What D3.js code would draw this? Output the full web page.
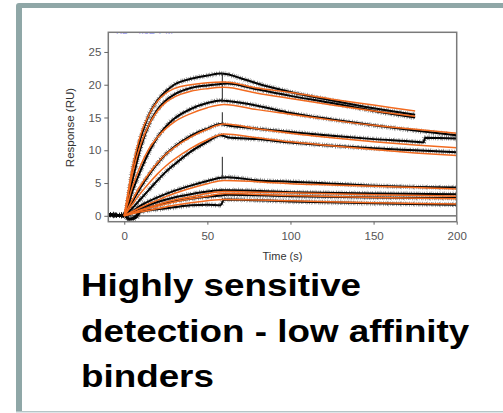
<!DOCTYPE html>
<html><head><meta charset="utf-8">
<script src="https://cdn.jsdelivr.net/npm/d3@7"></script>
<style>
html,body{margin:0;padding:0;background:#fff;}
svg{display:block;font-family:"Liberation Sans",Arial,sans-serif;}
</style></head>
<body>
<svg id="c" width="503" height="413"></svg>
<script>
// ---- Data ----
const xTicks = [0, 50, 100, 150, 200];
const yTicks = [0, 5, 10, 15, 20, 25];
const xLabel = "Time (s)";
const yLabel = "Response (RU)";
const titleLines = ["Highly sensitive", "detection - low affinity", "binders"];

// measured sensorgrams (black): [time, response]
const measA = [[-9.6,0.2],[0,0.1],[5,7.0],[10,12.0],[15,15.5],[20,17.6],[25,19.0],[30,20.0],[40,20.9],[50,21.4],[58,21.7],[62,21.6],[70,21.0],[80,20.2],[100,18.9],[125,17.6],[150,16.4],[175,15.4]];
const measB = [[-9.6,0.2],[0,0.1],[5,5.5],[10,10.5],[15,14.0],[20,16.2],[25,17.6],[30,18.5],[40,19.5],[50,19.9],[58,20.1],[62,20.2],[80,19.3],[100,18.3],[125,17.2],[150,16.0],[175,15.0]];
const measC = [[-9.6,0.2],[0,0.1],[5,3.8],[10,7.0],[15,9.8],[20,12.0],[25,13.6],[30,14.8],[40,16.3],[50,17.2],[58,17.6],[62,17.5],[80,16.8],[100,15.7],[125,14.7],[150,13.8],[175,13.0],[200,12.3]];
const measD = [[-9.6,0.2],[0,0.1],[5,2.2],[10,4.4],[15,6.3],[20,8.0],[25,9.4],[30,10.5],[40,12.2],[50,13.3],[58,14.0],[62,13.8],[80,13.3],[100,12.8],[125,12.2],[150,11.7],[175,11.3],[180,11.2],[181,11.9],[200,11.8]];
const measE = [[-9.6,0.2],[0,0.1],[5,1.2],[10,2.6],[15,4.0],[20,5.4],[25,6.7],[30,7.8],[40,9.8],[50,11.3],[58,12.3],[62,12.0],[80,11.7],[100,11.2],[125,10.7],[150,10.3],[175,10.0],[200,9.7]];
const measF = [[-9.6,0.2],[0,0.0],[10,1.6],[20,2.8],[30,3.8],[40,4.6],[50,5.3],[58,5.8],[62,5.9],[80,5.4],[100,5.2],[125,4.9],[150,4.6],[175,4.4],[200,4.3]];
const measG = [[-9.6,0.2],[0,0.0],[10,1.2],[20,2.1],[30,2.8],[40,3.3],[50,3.7],[58,3.9],[62,3.9],[100,3.6],[150,3.4],[200,3.3]];
const measH = [[-9.6,0.1],[0,0.0],[3,-0.4],[6,-0.2],[10,0.9],[20,1.6],[30,2.2],[40,2.6],[50,2.9],[58,3.1],[62,3.2],[100,3.0],[150,2.8],[200,2.7]];
const measI = [[-9.6,0.1],[0,0.0],[3,-0.6],[7,-0.3],[10,0.6],[20,1.0],[30,1.3],[40,1.6],[50,1.7],[58,1.6],[60,2.5],[100,2.2],[150,1.9],[200,1.7]];
const measured = [measA, measB, measC, measD, measE, measF, measG, measH, measI];

// injection-end spikes: [time, low, high]
const spikes = [[59, 17.3, 21.8], [59, 13.8, 15.8], [59, 5.8, 9.0]];

// fitted curves (orange)
const fitA = [[0,0],[5,7.5],[10,12.5],[15,15.5],[20,17.5],[25,18.7],[30,19.4],[40,20.0],[50,20.3],[60,20.4],[80,19.5],[100,18.8],[125,17.8],[150,16.9],[175,16.0]];
const fitB = [[0,0],[5,6.5],[10,11.0],[15,14.0],[20,16.0],[25,17.3],[30,18.1],[40,19.0],[50,19.4],[60,19.6],[80,18.7],[100,17.9],[125,16.9],[150,16.0],[175,15.2]];
const fitC = [[0,0],[5,4.5],[10,7.8],[15,10.3],[20,12.0],[25,13.3],[30,14.3],[40,15.6],[50,16.5],[60,17.0],[80,16.2],[100,15.5],[125,14.6],[150,13.8],[175,13.2],[200,12.6]];
const fitD = [[0,0],[5,2.5],[10,4.7],[15,6.5],[20,8.1],[25,9.4],[30,10.4],[40,12.0],[50,13.2],[60,14.0],[80,13.3],[100,12.6],[125,11.9],[150,11.3],[175,10.8],[200,10.4]];
const fitE = [[0,0],[5,1.8],[10,3.5],[15,5.0],[20,6.4],[25,7.6],[30,8.6],[40,10.3],[50,11.6],[60,12.5],[80,11.9],[100,11.3],[125,10.7],[150,10.1],[175,9.6],[200,9.2]];
const fitF = [[0,0],[10,1.3],[20,2.4],[30,3.4],[40,4.2],[50,4.9],[60,5.4],[80,5.2],[100,4.9],[125,4.7],[150,4.5],[175,4.3],[200,4.1]];
const fitG = [[0,0],[10,0.9],[20,1.7],[30,2.4],[40,2.9],[50,3.4],[60,3.7],[80,3.6],[100,3.5],[150,3.2],[200,3.0]];
const fitH = [[0,0],[10,0.8],[20,1.5],[30,2.1],[40,2.6],[50,3.0],[60,3.4],[100,3.1],[150,2.8],[200,2.6]];
const fitI = [[0,0],[10,0.6],[20,1.1],[30,1.6],[40,2.0],[50,2.3],[60,2.5],[100,2.3],[150,2.0],[200,1.8]];
const fits = [fitA, fitB, fitC, fitD, fitE, fitF, fitG, fitH, fitI];

// ---- Drawing ----
const svg = d3.select("#c");
const W = 503, H = 413;

// slide frame
svg.append("rect").attr("x",0).attr("y",0).attr("width",W).attr("height",H).attr("fill","#fff");
svg.append("rect").attr("x",16).attr("y",3).attr("width",W).attr("height",412).attr("rx",3).attr("fill","#8fa7a7");
svg.append("rect").attr("x",22).attr("y",8).attr("width",W).attr("height",403).attr("fill","#fff");
svg.append("rect").attr("x",16).attr("y",411.5).attr("width",W).attr("height",1.5).attr("fill","#dde5e8");

const L = 108.3, R = 456.7, T = 32.3, B = 221.7;
const x = d3.scaleLinear().domain([-9.6, 200]).range([L, R]);
const y = d3.scaleLinear().domain([-0.9, 28]).range([B, T]);

svg.append("defs").append("clipPath").attr("id","pc")
  .append("rect").attr("x",L).attr("y",T).attr("width",R-L).attr("height",B-T);

// faint cut-off blue label at top of plot (only its lowest pixels show)
const lbl = svg.append("g").attr("clip-path","url(#pc)");
lbl.append("text").attr("x",116).attr("y",34).attr("font-size",9).attr("fill","#a0a0f4")
  .text("KD= 4.3E-7 M");

// zero line
svg.append("line").attr("x1",L).attr("x2",R).attr("y1",y(0)).attr("y2",y(0))
  .attr("stroke","#555").attr("stroke-width",1.2);

const line = d3.line().x(d=>x(d[0])).y(d=>y(d[1])).curve(d3.curveMonotoneX);
const plot = svg.append("g").attr("clip-path","url(#pc)");

// measured traces: solid core + jagged texture strokes
measured.forEach(s=>{
  const d = line(s);
  plot.append("path").attr("d",d).attr("fill","none")
    .attr("stroke","#000").attr("stroke-width",2);
  plot.append("path").attr("d",d).attr("fill","none")
    .attr("stroke","#111").attr("stroke-width",4.6).attr("stroke-opacity",0.75)
    .attr("stroke-dasharray","0.5 1.1 0.6 2.3 0.4 1.6");
  plot.append("path").attr("d",d).attr("fill","none")
    .attr("stroke","#222").attr("stroke-width",6).attr("stroke-opacity",0.45)
    .attr("stroke-dasharray","0.4 4.7 0.5 7.3");
});
spikes.forEach(s=>{
  plot.append("line").attr("x1",x(s[0])).attr("x2",x(s[0]))
    .attr("y1",y(s[1])).attr("y2",y(s[2])).attr("stroke","#222").attr("stroke-width",1);
});
fits.forEach(s=>{
  plot.append("path").attr("d",line(s)).attr("fill","none")
    .attr("stroke","#f26a1f").attr("stroke-width",1.5);
});

// plot box
svg.append("rect").attr("x",L).attr("y",T).attr("width",R-L).attr("height",B-T)
  .attr("fill","none").attr("stroke","#7a7a7a").attr("stroke-width",1.5);

// axes
const ya = svg.append("g").attr("transform",`translate(${L},0)`)
  .call(d3.axisLeft(y).tickValues(yTicks).tickSize(4).tickPadding(3).tickFormat(d3.format("d")));
const xa = svg.append("g").attr("transform",`translate(0,${B})`)
  .call(d3.axisBottom(x).tickValues(xTicks).tickSize(3).tickPadding(7).tickFormat(d3.format("d")));
[ya, xa].forEach(a=>{
  a.select(".domain").remove();
  a.selectAll(".tick line").attr("stroke","#666");
  a.selectAll(".tick text").attr("fill","#555").attr("font-size",11.5)
    .attr("font-family","'Liberation Sans',Arial,sans-serif");
});

svg.append("text").attr("x",282.5).attr("y",259.5).attr("text-anchor","middle")
  .attr("font-size",11).attr("fill","#333").text(xLabel);
svg.append("text").attr("transform","translate(74,127.5) rotate(-90)").attr("text-anchor","middle")
  .attr("font-size",11.5).attr("fill","#333").text(yLabel);

// title
const baselines = [296, 341.7, 386.7];
titleLines.forEach((t,i)=>{
  svg.append("text").attr("transform",`translate(81,${baselines[i]}) scale(1.15,1)`)
    .attr("font-size",32).attr("font-weight","bold").attr("fill","#000").text(t);
});
</script>
</body></html>
